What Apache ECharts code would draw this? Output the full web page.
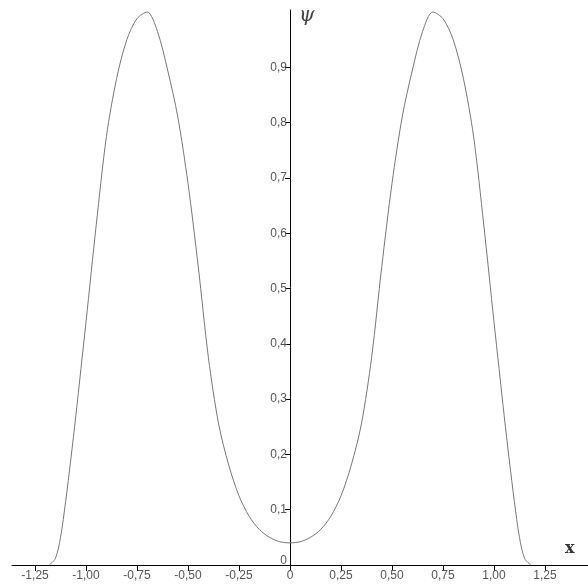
<!DOCTYPE html>
<html>
<head>
<meta charset="utf-8">
<script src="https://cdn.jsdelivr.net/npm/echarts@6/dist/echarts.min.js"></script>
<style>
  html, body { margin: 0; padding: 0; background: #fff; }
  #chart { width: 588px; height: 587px; }
</style>
</head>
<body>
<div id="chart"></div>
<script>
// Sample points of the wave function psi(x)
const xValues = [
  -1.18, -1.15, -1.125, -1.10, -1.075, -1.05, -1.025, -1.00, -0.95, -0.90,
  -0.85, -0.80, -0.75, -0.70, -0.65, -0.60, -0.55, -0.50, -0.45, -0.40,
  -0.35, -0.30, -0.25, -0.20, -0.15, -0.10, -0.05, 0,
  0.05, 0.10, 0.15, 0.20, 0.25, 0.30, 0.35, 0.40, 0.45, 0.50,
  0.55, 0.60, 0.65, 0.70, 0.75, 0.80, 0.85, 0.90, 0.95, 1.00,
  1.025, 1.05, 1.075, 1.10, 1.125, 1.15, 1.18
];
const psiValues = [
  0.000, 0.012, 0.050, 0.115, 0.190, 0.270, 0.355, 0.440, 0.615, 0.775,
  0.880, 0.950, 0.988, 1.000, 0.965, 0.895, 0.810, 0.690, 0.540, 0.375,
  0.255, 0.180, 0.125, 0.088, 0.064, 0.050, 0.042, 0.040,
  0.042, 0.050, 0.064, 0.088, 0.125, 0.180, 0.255, 0.375, 0.540, 0.690,
  0.810, 0.895, 0.965, 1.000, 0.988, 0.950, 0.880, 0.775, 0.615, 0.440,
  0.355, 0.270, 0.190, 0.115, 0.050, 0.012, 0.000
];

// Tick positions on both axes
const xTicks = [-1.25, -1.00, -0.75, -0.50, -0.25, 0, 0.25, 0.50, 0.75, 1.00, 1.25];
const yTicks = [0, 0.1, 0.2, 0.3, 0.4, 0.5, 0.6, 0.7, 0.8, 0.9];

const commaDecimal = (v, digits) => v === 0 ? '0' : v.toFixed(digits).replace('.', ',');

const gridLeft = 12;
const gridTop = 10;
const gridBottom = 22;
const xMin = -1.363;
const xMax = 1.461;
const yMin = 0;
const yMax = 1.0036;
const gridWidth = 588 - gridLeft;
// pixel column of x = 0, where the vertical axis is drawn
const zeroLeft = gridLeft + Math.round((0 - xMin) / (xMax - xMin) * gridWidth);

const labelFont = { color: '#555', fontFamily: 'Liberation Sans', fontSize: 12 };

const chart = echarts.init(document.getElementById('chart'));
chart.setOption({
  backgroundColor: '#ffffff',
  animation: false,
  grid: [
    { left: gridLeft, right: 0, top: gridTop, bottom: gridBottom, containLabel: false, outerBoundsMode: 'none' },
    // second grid starting at x = 0 carries the vertical axis
    { left: zeroLeft, right: 0, top: gridTop, bottom: gridBottom, containLabel: false, outerBoundsMode: 'none' }
  ],
  xAxis: [{
    gridIndex: 0,
    type: 'value',
    min: xMin,
    max: xMax,
    splitLine: { show: false },
    axisLine: { lineStyle: { color: '#000', width: 1 } },
    axisTick: { customValues: xTicks, length: 6, lineStyle: { color: '#000', width: 1 } },
    axisLabel: Object.assign({
      customValues: xTicks,
      formatter: v => commaDecimal(v, 2),
      margin: 5
    }, labelFont)
  }, {
    gridIndex: 1,
    type: 'value',
    min: 0,
    max: xMax,
    show: false
  }],
  yAxis: [{
    gridIndex: 0,
    type: 'value',
    min: yMin,
    max: yMax,
    show: false
  }, {
    gridIndex: 1,
    type: 'value',
    min: yMin,
    max: yMax,
    splitLine: { show: false },
    axisLine: { show: true, onZero: false, lineStyle: { color: '#000', width: 1 } },
    axisTick: { show: true, customValues: yTicks, length: 5, lineStyle: { color: '#000', width: 1 } },
    axisLabel: Object.assign({
      customValues: yTicks,
      formatter: v => v === 0 ? '{z|0}' : commaDecimal(v, 1),
      margin: 3,
      rich: { z: Object.assign({ padding: [0, 0, 8, 0] }, labelFont) }
    }, labelFont)
  }],
  graphic: [
    { type: 'text', left: 299, top: 6, style: { text: 'ψ', font: 'italic 20px "DejaVu Serif"', fill: '#444' } },
    { type: 'text', left: 565, top: 541, style: { text: 'x', font: 'bold 16px "DejaVu Serif"', fill: '#333' } }
  ],
  series: [{
    type: 'line',
    xAxisIndex: 0,
    yAxisIndex: 0,
    data: xValues.map((x, i) => [x, psiValues[i]]),
    smooth: 0.3,
    symbol: 'none',
    lineStyle: { color: '#777', width: 1 }
  }]
});
</script>
</body>
</html>
